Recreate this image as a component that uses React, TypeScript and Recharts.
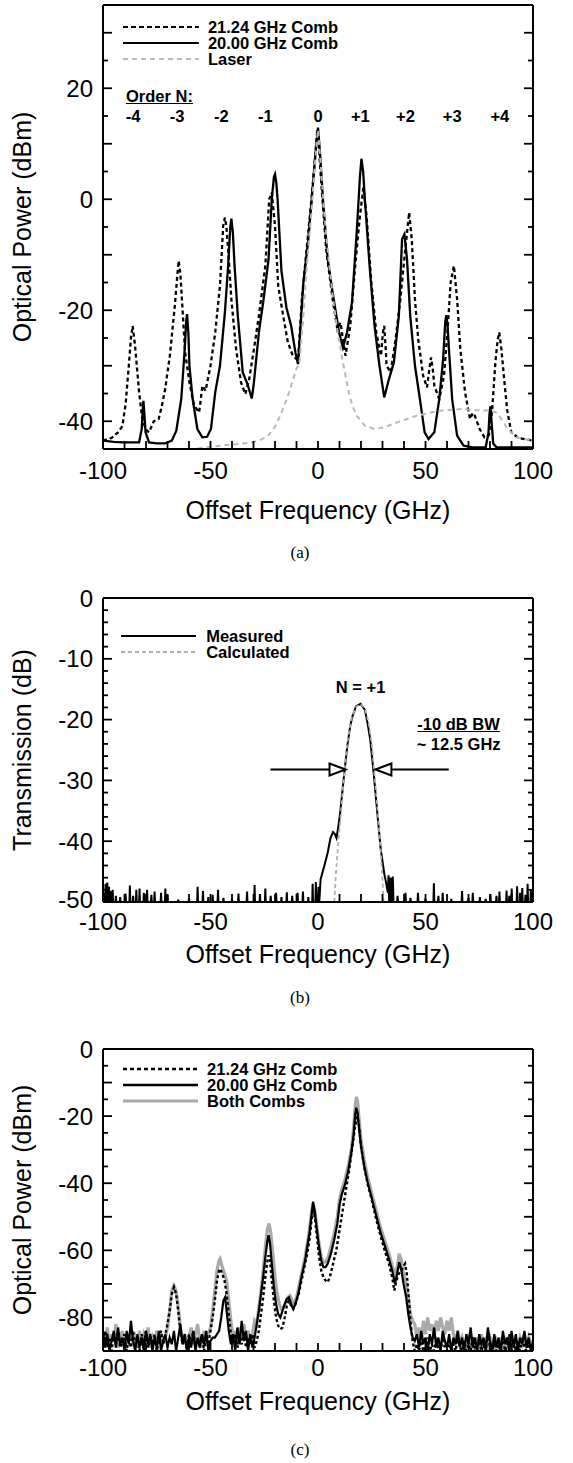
import React from "react";
import { LineChart, Line, XAxis, YAxis, ReferenceLine, ReferenceDot } from "recharts";

type Pt = [number, number];

const FONT = "'Liberation Sans', Arial, Helvetica, sans-serif";
const PAGE_W = 573;
const PLOT_L = 103;
const PLOT_R = 533;
const PLOT_W = PLOT_R - PLOT_L;

// ---- axes ----
const xTicks = [-100, -90, -80, -70, -60, -50, -40, -30, -20, -10, 0, 10, 20, 30, 40, 50, 60, 70, 80, 90, 100];
const xLabels = [-100, -50, 0, 50, 100];

const yTicksA = [-40, -35, -30, -25, -20, -15, -10, -5, 0, 5, 10, 15, 20, 25, 30];
const yLabelsA = [-40, -20, 0, 20];
const yTicksB = [-50, -48, -46, -44, -42, -40, -38, -36, -34, -32, -30, -28, -26, -24, -22, -20, -18, -16, -14, -12, -10, -8, -6, -4, -2, 0];
const yLabelsB = [-50, -40, -30, -20, -10, 0];
const yTicksC = [-85, -80, -75, -70, -65, -60, -55, -50, -45, -40, -35, -30, -25, -20, -15, -10, -5, 0];
const yLabelsC = [-80, -60, -40, -20, 0];

// ---- (a) comb spectra ----
const combA2124: Pt[] = [
  [-100, -43.5], [-96, -43], [-93, -42], [-91, -40.9], [-89.5, -37], [-88, -30], [-87, -25], [-86.2, -22.8],
  [-85.2, -26], [-84.5, -29], [-83.2, -34.8], [-81.7, -39.6], [-80, -41.5], [-78.6, -42], [-77.5, -41],
  [-76.4, -40], [-74.1, -39.6], [-72.5, -37], [-71.1, -34.2], [-68.9, -28.2], [-66.6, -19.2], [-65.5, -14],
  [-64.8, -11.1], [-64, -13.5], [-63.3, -18], [-61.8, -27.6], [-59.8, -33], [-57.6, -37.2], [-55.3, -38.4],
  [-54.5, -36], [-53.8, -33.6], [-52.3, -34.5], [-50, -30], [-47.8, -24], [-45.6, -15.6], [-44.1, -4.8],
  [-43.3, -3.3], [-42.6, -5], [-41.8, -9], [-40.3, -18], [-38.1, -27], [-35.8, -33], [-33.8, -35.1],
  [-32, -32.4], [-29.8, -27], [-27.5, -21], [-24.5, -12], [-22.7, 0], [-21.5, 1.2], [-20, -4.8],
  [-18.5, -15.6], [-16.2, -21], [-14, -25.8], [-11.7, -28.2], [-10, -28.8], [-9.3, -29.1], [-7.5, -18],
  [-5.3, -9], [-3, 0], [-1.5, 7], [-0.3, 12.6], [0.5, 9], [1.5, 3], [3.8, -9], [6.8, -18], [9, -23.4],
  [10.5, -22.2], [11.5, -25], [12.8, -28.2], [15, -22.8], [17.3, -12], [19.5, -3], [21.1, 2.1], [22.6, -3],
  [24.8, -15], [27.1, -24], [29.3, -28.2], [30.2, -24], [30.8, -22.8], [31.5, -27], [31.9, -30],
  [33.8, -31.2], [36.1, -25.2], [38.3, -18], [40.6, -9], [42.4, -2.4], [43.6, -7.2], [45.1, -18],
  [46.6, -25.2], [48.9, -31.8], [50.7, -33.9], [52, -30], [52.6, -28.5], [53.5, -31], [54.1, -33.6],
  [56.4, -36], [58.6, -31.8], [60.2, -24], [61.7, -15], [63.2, -12], [64.7, -18], [66.2, -27],
  [68.4, -34.8], [70.7, -39.6], [72, -38.5], [72.9, -39], [75.2, -41.4], [77.4, -42.9], [79.5, -42.5],
  [81, -38], [82.5, -29.4], [83.5, -25.5], [84.3, -24], [85.3, -27], [86.6, -32.5], [88, -38],
  [89.9, -42], [93.2, -43], [100, -43.5],
];

const combA2000: Pt[] = [
  [-100, -43.5], [-95, -43.7], [-90.7, -43.8], [-83.2, -43.8], [-82, -41.4], [-81.5, -38], [-81.2, -36.3],
  [-80.7, -39], [-80.2, -42], [-78.6, -43.8], [-75, -44], [-71.1, -44], [-68, -43.5], [-65.9, -41.7],
  [-63.6, -36], [-62.1, -27.6], [-61.3, -22], [-60.9, -20.7], [-60.3, -24], [-59.8, -30], [-58.3, -36],
  [-56.1, -41.4], [-53.8, -42.9], [-51.6, -42.8], [-49.8, -41.4], [-47.8, -34.8], [-45.6, -30],
  [-43.3, -20.4], [-41.8, -12], [-40.8, -5], [-40.3, -3.5], [-39.6, -6], [-38.8, -12], [-37.3, -21],
  [-35, -31.2], [-32.8, -33.3], [-30.8, -35.9], [-29.8, -33], [-27.5, -24], [-25.3, -18], [-23, -10.8],
  [-21.5, 0], [-20.5, 4], [-20, 4.5], [-19.4, 3], [-18.8, 0], [-17, -12.9], [-14.7, -19.5], [-12.5, -22.8],
  [-10.5, -27.6], [-9.3, -29.7], [-8.3, -24], [-6.8, -15], [-4.5, -7.2], [-2.3, 3], [-1, 9], [0, 12.9],
  [1, 8], [2.3, 0], [4.5, -10.8], [6.8, -16.8], [9.8, -24], [11.6, -26.7], [13.5, -24], [15.8, -18.6],
  [18, -6], [19.5, 4], [20.2, 7.3], [21, 5], [21.8, 0], [24, -12], [26.3, -22.8], [28.6, -30],
  [30.8, -35.7], [33, -32.4], [35.3, -29.4], [37.6, -21], [39.1, -7.2], [40.2, -6.3], [41.4, -10.8],
  [42.9, -21], [45.1, -30], [47.4, -36], [49.6, -42], [51.4, -43.2], [54.1, -42], [56.4, -36],
  [58.2, -28.8], [59.2, -22], [59.7, -20.9], [60.3, -23], [60.9, -27], [62.4, -36], [64.7, -42.6],
  [67.7, -44.4], [72, -44.7], [78, -44.7], [79.3, -42], [79.8, -38.5], [80.2, -37.3], [80.7, -40],
  [81.5, -44], [83, -44.7], [100, -44.7],
];

const laserA: Pt[] = [
  [-56, -44.9], [-50, -44.6], [-40, -44.2], [-31.8, -43.9], [-27, -43.4], [-23.4, -42.7], [-20, -41],
  [-17, -38.5], [-14.5, -36], [-12, -33], [-10, -30.5], [-8.6, -29.4], [-7, -22], [-5, -11], [-3, -2],
  [-1.5, 6], [0, 12.5], [1.5, 5], [3, -3], [5, -11], [7, -18], [9, -23.5], [11.3, -28.8], [14.3, -34.8],
  [16, -37.2], [18, -39], [21.8, -40.8], [26.3, -41.4], [30.8, -41.1], [36.8, -40.2], [45.9, -39],
  [56.4, -38.1], [66.9, -37.8], [75.9, -38.1], [80, -38], [83.3, -38.5], [86, -40], [88.3, -41.5],
  [93.2, -43], [100, -43.5],
];

// ---- (b) filter transmission ----
const MEAS_FLOOR = -50;
const measSpikesLeft: Pt[] = [
  [-99.5, -48.5], [-98.8, -47], [-98, -46.8], [-97.2, -47.5], [-96.5, -48.2], [-95.5, -48], [-94, -49],
  [-92, -49.2], [-89.5, -48.6], [-87.5, -47.3], [-86, -49], [-84.5, -48], [-83, -47.8], [-81, -48.5],
  [-79.5, -48], [-77.5, -48.8], [-76, -48.3], [-73, -48.5], [-71, -47.8], [-70, -48.8], [-65, -49.6],
  [-60, -49.4], [-56, -47.5], [-53.5, -48.2], [-51, -49.2], [-49, -48.8], [-46.5, -48], [-44, -49.3],
  [-40, -49.5], [-37, -48.6], [-33, -48.3], [-29.5, -47.2], [-27, -48.7], [-24.5, -47.8], [-22, -49],
  [-19.5, -48.5], [-17, -49.2], [-14.5, -48.4], [-12, -49], [-9.5, -48.5], [-7, -48.3], [-4.5, -49.2],
  [-2.5, -47], [-1, -46.7], [0.2, -47.5],
];
const measPeak: Pt[] = [
  [0.6, -50], [1.2, -46.3], [2.9, -44.1], [4.5, -41.9], [5.8, -39.5], [7, -38.5], [7.8, -38.8],
  [8.6, -39.5], [9.5, -37.5], [10.3, -35.4], [11.9, -29.9], [13.6, -24.4], [15, -21], [16, -19.5],
  [17.7, -17.8], [19.8, -17.4], [21.8, -18.4], [23, -20.5], [24.3, -23.3], [25.9, -28.8], [27.6, -35.4],
  [29.2, -41.4], [30.9, -45.5], [31.5, -46.5], [32.5, -48.5], [32.8, -45.6], [33.1, -50], [33.8, -46],
  [34.1, -50], [34.8, -45.8], [35.1, -50],
];
const measSpikesRight: Pt[] = [
  [37, -49], [40.7, -48.5], [43, -49.3], [46.5, -48.5], [50, -49.5], [53.9, -46.9], [56, -49], [58, -48.5],
  [62, -49.5], [67, -48.2], [70, -49.3], [72, -48.5], [75.3, -49.2], [78, -49.5], [80.2, -48.7], [83, -49],
  [84.4, -48.3], [87.7, -48.1], [89, -49], [90.1, -47.8], [92.6, -47.4], [94, -48.5], [95, -47.7],
  [96.5, -48.8], [97.5, -47], [99, -48],
];
const calculatedB: Pt[] = [
  [7.6, -50], [8.2, -46], [8.6, -44], [9.5, -40], [10.3, -37], [11.9, -30], [13.6, -23.8], [15, -20.8],
  [16, -19.3], [17.7, -17.9], [19.8, -17.4], [21.8, -18.2], [23.5, -20.4], [25, -24], [25.9, -27.5],
  [27.6, -34.3], [29.2, -41.9], [30, -46.5], [30.5, -50],
];

// ---- (c) after the filter ----
const bothC: Pt[] = [
  [-100, -86], [-99, -88], [-98, -83], [-97, -89], [-96, -85], [-95, -87], [-94, -82], [-93, -89], [-92, -86],
  [-91, -84], [-90, -89], [-89, -85], [-88, -87], [-87, -83], [-86, -88], [-85, -86], [-84, -89], [-83, -84],
  [-82, -88], [-81, -85], [-80, -87], [-79, -83], [-78, -89], [-77, -86], [-76, -88], [-75, -84], [-74, -87],
  [-73, -85], [-72, -87], [-71, -86], [-70, -83], [-69, -78], [-68, -72], [-67, -70.5], [-66, -72],
  [-65, -77], [-64, -83], [-63, -87], [-62, -85], [-61, -89], [-60, -86], [-59, -83], [-58, -88], [-57, -85],
  [-56, -82], [-55, -87], [-54, -89], [-53, -84], [-52, -87], [-51, -85], [-50, -83], [-49, -78], [-48, -72],
  [-47, -66], [-46, -63], [-45.5, -62.5], [-44.5, -65], [-43.5, -67], [-42.5, -69], [-41.5, -75],
  [-40.5, -81], [-39.5, -86], [-38.5, -84], [-37.5, -88], [-36.5, -83], [-35.5, -87], [-34.5, -82],
  [-33.5, -86], [-32.5, -84], [-31.5, -88], [-30.5, -85], [-29.5, -81], [-28.5, -82], [-27.5, -77],
  [-26.5, -72], [-25.5, -66], [-24.5, -59], [-23.5, -53.5], [-22.8, -52], [-22, -54.5], [-21, -61],
  [-20, -68], [-19, -73], [-18, -76], [-17, -77.5], [-16, -77], [-15, -75.5], [-14, -74], [-13, -73.5],
  [-12, -75], [-11, -76], [-10, -74], [-9, -71], [-8, -68], [-7, -65], [-6, -62], [-5, -58], [-4, -54],
  [-3, -48.5], [-2.3, -46], [-1.5, -48], [-0.5, -53], [0.5, -58], [1.5, -62], [2.5, -63.5], [3.5, -63.5],
  [4.5, -62.5], [6, -59], [7.5, -55], [9, -50], [10, -45], [11, -42], [12.5, -39], [14, -35], [15.5, -30],
  [16.5, -24], [17.3, -17], [17.8, -14.3], [18.4, -15.5], [19, -20], [20, -27], [21.5, -33], [23, -38],
  [25, -43], [27, -48], [29, -53], [31, -57], [33, -61], [34.5, -64.5], [35.8, -67.5], [36.8, -65],
  [37.8, -61], [38.8, -63], [39.8, -67], [41, -70], [42, -74], [43, -79], [44, -81], [45, -82], [46, -86],
  [47, -83], [48, -88], [49, -81], [50, -85], [51, -80], [52, -84], [53, -82], [54, -86], [55, -81],
  [56, -84], [57, -80], [58, -83], [59, -85], [60, -81], [61, -84], [62, -80], [63, -85], [64, -87],
  [65, -84], [66, -88], [67, -86], [68, -89], [69, -87], [70, -85], [71, -89], [72, -87], [73, -90],
  [74, -86], [75, -88], [76, -85], [77, -89], [78, -87], [79, -89], [80, -86], [81, -88], [82, -90],
  [83, -87], [84, -89], [85, -86], [86, -89], [87, -87], [88, -90], [89, -88], [90, -85], [91, -89],
  [92, -87], [93, -89], [94, -86], [95, -88], [96, -85], [97, -89], [98, -86], [99, -88], [100, -87],
];

const combC2000: Pt[] = [
  [-100, -84], [-99, -89], [-98, -85], [-97, -90], [-96, -87], [-95, -84], [-94, -89], [-93, -83], [-92, -88],
  [-91, -86], [-90, -90], [-89, -84], [-88, -88], [-87, -81], [-86, -87], [-85, -90], [-84, -85], [-83, -89],
  [-82, -86], [-81, -90], [-80, -84], [-79, -88], [-78, -85], [-77, -90], [-76, -86], [-75, -89], [-74, -84],
  [-73, -90], [-72, -87], [-71, -85], [-70, -89], [-69, -86], [-68, -88], [-67, -84], [-66, -90], [-65, -86],
  [-64, -82], [-63, -88], [-62, -85], [-61, -90], [-60, -86], [-59, -89], [-58, -84], [-57, -90], [-56, -86],
  [-55, -89], [-54, -85], [-53, -88], [-52, -84], [-51, -90], [-50, -87], [-49, -86], [-48, -86], [-47, -85],
  [-46, -84], [-45, -80], [-44, -75], [-43.2, -74], [-42.5, -78], [-41.5, -84], [-40.5, -88], [-39.5, -85],
  [-38.5, -90], [-37.5, -83], [-36.5, -88], [-35.5, -81], [-34.5, -87], [-33.5, -84], [-32.5, -90],
  [-31.5, -85], [-30.5, -89], [-29.5, -86], [-28.5, -82], [-27.5, -78], [-26.5, -73], [-25.5, -68],
  [-24.5, -62], [-23.5, -57], [-23, -55.5], [-22.3, -58], [-21.5, -64], [-20.5, -71], [-19.5, -76],
  [-18.5, -79], [-17.5, -80], [-16.5, -78], [-15.5, -76], [-14.5, -74.5], [-13.5, -74], [-12.5, -76],
  [-11.5, -77.5], [-10.5, -76], [-9, -72.5], [-8, -69], [-7, -66], [-6, -63], [-5, -59], [-4, -55],
  [-3, -49.5], [-2.3, -45.5], [-1.5, -48.5], [-0.5, -54], [0.5, -59], [1.5, -63], [2.5, -65], [3.5, -65],
  [4.5, -64], [6, -61], [7.5, -57], [9, -52], [10, -46.5], [11, -43.5], [12.5, -40.5], [14, -36.5],
  [15.5, -31], [16.5, -26], [17.3, -19.5], [17.8, -17.5], [18.4, -19], [19, -23], [20, -29], [21.5, -35],
  [23, -39.5], [25, -44.5], [27, -49.5], [29, -54.5], [31, -58.5], [33, -62.5], [34.5, -66], [35.8, -70],
  [36.8, -67], [37.8, -63.5], [38.8, -66], [39.8, -70], [41, -74], [42, -79], [43, -83], [44, -86],
  [45, -87], [46, -85], [47, -89], [48, -84], [49, -88], [50, -86], [51, -90], [52, -85], [53, -88],
  [54, -83], [55, -89], [56, -86], [57, -90], [58, -84], [59, -87], [60, -89], [61, -85], [62, -90],
  [63, -86], [64, -88], [65, -84], [66, -89], [67, -86], [68, -90], [69, -85], [70, -88], [71, -83],
  [72, -89], [73, -86], [74, -90], [75, -85], [76, -88], [77, -86], [78, -90], [79, -83], [80, -87],
  [81, -90], [82, -85], [83, -89], [84, -86], [85, -90], [86, -84], [87, -88], [88, -86], [89, -90],
  [90, -84], [91, -89], [92, -85], [93, -90], [94, -86], [95, -88], [96, -84], [97, -89], [98, -86],
  [99, -90], [100, -87],
];

const combC2124: Pt[] = [
  [-100, -87], [-99, -84], [-98, -89], [-97, -86], [-96, -90], [-95, -85], [-94, -88], [-93, -84], [-92, -89],
  [-91, -87], [-90, -85], [-89, -90], [-88, -86], [-87, -89], [-86, -84], [-85, -88], [-84, -86], [-83, -90],
  [-82, -85], [-81, -88], [-80, -84], [-79, -89], [-78, -86], [-77, -88], [-76, -85], [-75, -90], [-74, -87],
  [-73, -84], [-72, -88], [-71, -85], [-70, -82], [-69, -78], [-68, -73], [-67, -71], [-66, -73], [-65, -78],
  [-64, -84], [-63, -88], [-62, -86], [-61, -89], [-60, -85], [-59, -88], [-58, -84], [-57, -89], [-56, -86],
  [-55, -88], [-54, -85], [-53, -90], [-52, -86], [-51, -88], [-50, -84], [-49, -80], [-48, -75], [-47, -69],
  [-46, -66], [-45.5, -65.5], [-44.5, -67], [-43.5, -69], [-42.5, -73], [-41.5, -79], [-40.5, -85],
  [-39.5, -88], [-38.5, -85], [-37.5, -89], [-36.5, -86], [-35.5, -88], [-34.5, -84], [-33.5, -89],
  [-32.5, -86], [-31.5, -88], [-30.5, -85], [-29.5, -89], [-28.5, -87], [-27.5, -84], [-26.5, -79],
  [-25.5, -74], [-24.5, -68], [-23.5, -63], [-23, -61.5], [-22.3, -63], [-21.5, -69], [-20.5, -75],
  [-19.5, -80], [-18.5, -82.5], [-17.5, -83.5], [-16.5, -83], [-15.5, -80], [-14.5, -76.5], [-13.5, -75],
  [-12.5, -76.5], [-11.5, -77.5], [-10.5, -76], [-9, -73], [-8, -70], [-7, -67], [-6, -64], [-5, -61],
  [-4, -57], [-3, -51], [-2.3, -47.5], [-1.5, -50], [-0.5, -56], [0.5, -62], [1.5, -66], [2.5, -68],
  [3.5, -69], [4.5, -69.5], [5.5, -68], [7, -64], [8.5, -60], [10, -54], [11.5, -48], [13, -42],
  [14.5, -36], [16, -29], [17.3, -23], [18.2, -20], [19, -22.5], [20, -29], [21.5, -35], [23, -40],
  [25, -45], [27, -50.5], [29, -55.5], [31, -60], [33, -64], [34.5, -68], [35.5, -72], [36.5, -69],
  [37.5, -67], [38.5, -66.5], [39.5, -65], [40.5, -64], [41.3, -67], [42.2, -74], [43, -81], [44, -87],
  [45, -90], [46, -88], [47, -90], [48, -87], [49, -90], [50, -89], [51, -86], [52, -90], [53, -88],
  [54, -90], [55, -87], [56, -89], [57, -90], [58, -86], [59, -89], [60, -90], [61, -87], [62, -90],
  [63, -88], [64, -90], [65, -86], [66, -89], [67, -90], [68, -87], [69, -90], [70, -88], [71, -90],
  [72, -86], [73, -89], [74, -90], [75, -87], [76, -90], [77, -88], [78, -90], [79, -85], [80, -89],
  [81, -90], [82, -87], [83, -90], [84, -88], [85, -90], [86, -86], [87, -90], [88, -88], [89, -85],
  [90, -90], [91, -87], [92, -90], [93, -88], [94, -90], [95, -86], [96, -89], [97, -90], [98, -87],
  [99, -90], [100, -88],
];

const orderLabels = ["-4", "-3", "-2", "-1", "0", "+1", "+2", "+3", "+4"];
const orderPos = [-86, -65.5, -45, -24.5, 0, 19.7, 40.7, 62.4, 84.6];

// ---- helpers ----
const rows = (pts: Pt[]) => pts.map(([x, y]) => ({ x, y }));
const spikes = (s: Pt[]): Pt[] =>
  s.flatMap(([x, t]) => [[x - 0.2, MEAS_FLOOR], [x, t], [x + 0.2, MEAS_FLOOR]] as Pt[]);
const measuredB: Pt[] = [...spikes(measSpikesLeft), ...measPeak, ...spikes(measSpikesRight)];

interface Geom {
  top: number;
  height: number;
  plotTop: number;
  plotBottom: number;
  yMin: number;
  yMax: number;
  xLabelGap: number;
  titleGap: number;
  bottomLabelLift: number;
}

const GA: Geom = { top: 0, height: 535, plotTop: 5, plotBottom: 449, yMin: -45, yMax: 35, xLabelGap: 21, titleGap: 70, bottomLabelLift: 0 };
const GB: Geom = { top: 560, height: 420, plotTop: 38, plotBottom: 342, yMin: -50, yMax: 0, xLabelGap: 19, titleGap: 61, bottomLabelLift: 3 };
const GC: Geom = { top: 1010, height: 420, plotTop: 39, plotBottom: 341, yMin: -90, yMax: 0, xLabelGap: 16, titleGap: 59, bottomLabelLift: 0 };

const px = (x: number) => PLOT_L + ((x + 100) / 200) * PLOT_W;
const py = (g: Geom, y: number) =>
  g.top + g.plotTop + ((g.yMax - y) / (g.yMax - g.yMin)) * (g.plotBottom - g.plotTop);

const isMul = (v: number, step: number) => Math.abs(v / step - Math.round(v / step)) < 1e-6;

function frame(g: Geom, yTicks: number[], yLabels: number[], yMajor: number, yTitle: string) {
  const text = { fontFamily: FONT, fontSize: 24, fill: "#000" };
  const axisLine = { stroke: "#000", strokeWidth: 2 };
  return [
    <XAxis
      key="xb"
      type="number"
      dataKey="x"
      domain={[-100, 100]}
      allowDataOverflow
      ticks={xTicks}
      interval={0}
      tickLine={false}
      tickSize={0}
      tickMargin={0}
      axisLine={axisLine}
      height={g.height - g.plotBottom}
      tick={({ x, y, payload }: any) => (
        <g>
          <line x1={x} x2={x} y1={y} y2={y - 8} stroke="#000" strokeWidth={1.8} />
          {xLabels.includes(payload.value) && (
            <text x={x} y={y + g.xLabelGap} dy="0.36em" textAnchor="middle" {...text}>
              {payload.value}
            </text>
          )}
        </g>
      )}
      label={() => (
        <text x={PLOT_L + PLOT_W / 2} y={g.plotBottom + g.titleGap} textAnchor="middle" fontFamily={FONT} fontSize={25} fill="#000">
          Offset Frequency (GHz)
        </text>
      )}
    />,
    <XAxis
      key="xt"
      xAxisId="top"
      orientation="top"
      type="number"
      domain={[-100, 100]}
      allowDataOverflow
      ticks={xTicks}
      interval={0}
      tickLine={false}
      tickSize={0}
      tickMargin={0}
      axisLine={axisLine}
      height={1}
      tick={({ x, y }: any) => <line x1={x} x2={x} y1={y} y2={y + 8} stroke="#000" strokeWidth={1.8} />}
    />,
    <YAxis
      key="yl"
      type="number"
      domain={[g.yMin, g.yMax]}
      allowDataOverflow
      ticks={yTicks}
      interval={0}
      tickLine={false}
      tickSize={0}
      tickMargin={0}
      axisLine={axisLine}
      width={PLOT_L}
      tick={({ x, y, payload }: any) => (
        <g>
          <line x1={x} x2={x + (isMul(payload.value, yMajor) ? 9 : 5)} y1={y} y2={y} stroke="#000" strokeWidth={1.8} />
          {yLabels.includes(payload.value) && (
            <text
              x={x - 10}
              y={payload.value === g.yMin ? y - g.bottomLabelLift : y}
              dy="0.36em"
              textAnchor="end"
              {...text}
            >
              {payload.value}
            </text>
          )}
        </g>
      )}
      label={() => {
        const cy = (g.plotTop + g.plotBottom) / 2;
        return (
          <text x={31} y={cy} transform={`rotate(-90 31 ${cy})`} textAnchor="middle" fontFamily={FONT} fontSize={25} fill="#000">
            {yTitle}
          </text>
        );
      }}
    />,
    <YAxis
      key="yr"
      yAxisId="right"
      orientation="right"
      type="number"
      domain={[g.yMin, g.yMax]}
      allowDataOverflow
      ticks={yTicks}
      interval={0}
      tickLine={false}
      tickSize={0}
      tickMargin={0}
      axisLine={axisLine}
      width={1}
      tick={({ x, y, payload }: any) => (
        <line x1={x} x2={x - (isMul(payload.value, yMajor) ? 9 : 5)} y1={y} y2={y} stroke="#000" strokeWidth={1.8} />
      )}
    />,
  ];
}

const margin = (g: Geom) => ({ top: g.plotTop - 1, right: PAGE_W - PLOT_R - 1, left: 0, bottom: 0 });

const boldText: React.CSSProperties = {
  position: "absolute",
  fontFamily: FONT,
  fontWeight: 700,
  fontSize: 16.5,
  lineHeight: "18px",
  whiteSpace: "nowrap",
  color: "#000",
};

function Note({ x, y, children, align = "center", underline = false }: any) {
  return (
    <div
      style={{
        ...boldText,
        left: x,
        top: y,
        transform: align === "center" ? "translate(-50%, -50%)" : "translate(0, -50%)",
        textDecoration: underline ? "underline" : "none",
      }}
    >
      {children}
    </div>
  );
}

interface LegendRow {
  label: string;
  color: string;
  width: number;
  dash?: string;
}

function LegendBox({ g, rowsY, items, x1, x2, xt }: { g: Geom; rowsY: number[]; items: LegendRow[]; x1: number; x2: number; xt: number }) {
  return (
    <>
      {items.map((it, i) => (
        <React.Fragment key={it.label}>
          <svg
            width={px(x2) - px(x1)}
            height={6}
            style={{ position: "absolute", left: px(x1), top: py(g, rowsY[i]) - 3 }}
          >
            <line x1={0} x2={px(x2) - px(x1)} y1={3} y2={3} stroke={it.color} strokeWidth={it.width} strokeDasharray={it.dash} />
          </svg>
          <Note x={px(xt)} y={py(g, rowsY[i])} align="left">
            {it.label}
          </Note>
        </React.Fragment>
      ))}
    </>
  );
}

function Caption({ y, text }: { y: number; text: string }) {
  return (
    <div
      style={{
        position: "absolute",
        left: 300,
        top: y,
        transform: "translate(-50%, -50%)",
        fontFamily: "'Liberation Serif', 'DejaVu Serif', serif",
        fontSize: 17,
        color: "#000",
      }}
    >
      {text}
    </div>
  );
}

const arrowHead = (dir: 1 | -1) => (props: any) => {
  const { cx, cy } = props;
  const b = cx - dir * 16;
  return <path d={`M${cx},${cy} L${b},${cy - 6} L${b},${cy + 6} Z`} fill="#fff" stroke="#000" strokeWidth={2} />;
};

export default function App() {
  return (
    <div style={{ position: "absolute", left: 0, top: 0, width: PAGE_W, height: 1463, background: "#fff" }}>
      {/* (a) */}
      <div style={{ position: "absolute", left: 0, top: GA.top }}>
        <LineChart width={PAGE_W} height={GA.height} margin={margin(GA)}>
          {frame(GA, yTicksA, yLabelsA, 10, "Optical Power (dBm)")}
          <Line data={rows(combA2124)} dataKey="y" type="linear" stroke="#000" strokeWidth={2.3} strokeDasharray="4 3" dot={false} activeDot={false} isAnimationActive={false} />
          <Line data={rows(combA2000)} dataKey="y" type="linear" stroke="#000" strokeWidth={2.3} dot={false} activeDot={false} isAnimationActive={false} />
          <Line data={rows(laserA)} dataKey="y" type="linear" stroke="#b8b8b8" strokeWidth={2} strokeDasharray="5 4" dot={false} activeDot={false} isAnimationActive={false} />
        </LineChart>
      </div>
      <LegendBox
        g={GA}
        rowsY={[31, 28.1, 25.3]}
        x1={-90.6}
        x2={-55.3}
        xt={-51.2}
        items={[
          { label: "21.24 GHz Comb", color: "#000", width: 2.2, dash: "5 3" },
          { label: "20.00 GHz Comb", color: "#000", width: 2.2 },
          { label: "Laser", color: "#b8b8b8", width: 2, dash: "5 4" },
        ]}
      />
      <Note x={px(-89.3)} y={py(GA, 18.6)} align="left" underline>
        Order N:
      </Note>
      {orderLabels.map((t, i) => (
        <Note key={t} x={px(orderPos[i])} y={py(GA, 15)}>
          {t}
        </Note>
      ))}
      <Caption y={553} text="(a)" />

      {/* (b) */}
      <div style={{ position: "absolute", left: 0, top: GB.top }}>
        <LineChart width={PAGE_W} height={GB.height} margin={margin(GB)}>
          {frame(GB, yTicksB, yLabelsB, 10, "Transmission (dB)")}
          <Line data={rows(measuredB)} dataKey="y" type="linear" stroke="#000" strokeWidth={2} dot={false} activeDot={false} isAnimationActive={false} />
          <Line data={rows(calculatedB)} dataKey="y" type="linear" stroke="#b0b0b0" strokeWidth={1.8} strokeDasharray="4 3" dot={false} activeDot={false} isAnimationActive={false} />
          <ReferenceLine segment={[{ x: -22.1, y: -28.2 }, { x: 12.8, y: -28.2 }]} stroke="#000" strokeWidth={2} />
          <ReferenceLine segment={[{ x: 60.8, y: -28.2 }, { x: 26.7, y: -28.2 }]} stroke="#000" strokeWidth={2} />
          <ReferenceDot x={12.8} y={-28.2} r={1} shape={arrowHead(1)} />
          <ReferenceDot x={26.7} y={-28.2} r={1} shape={arrowHead(-1)} />
        </LineChart>
      </div>
      <LegendBox
        g={GB}
        rowsY={[-6.2, -8.8]}
        x1={-91.8}
        x2={-56.7}
        xt={-52}
        items={[
          { label: "Measured", color: "#000", width: 2 },
          { label: "Calculated", color: "#b0b0b0", width: 1.8, dash: "4 3" },
        ]}
      />
      <Note x={px(19.8)} y={py(GB, -14.7)}>
        N = +1
      </Note>
      <Note x={px(65.4)} y={py(GB, -20.8)} underline>
        -10 dB BW
      </Note>
      <Note x={px(65.4)} y={py(GB, -24)}>
        ~ 12.5 GHz
      </Note>
      <Caption y={998} text="(b)" />

      {/* (c) */}
      <div style={{ position: "absolute", left: 0, top: GC.top }}>
        <LineChart width={PAGE_W} height={GC.height} margin={margin(GC)}>
          {frame(GC, yTicksC, yLabelsC, 10, "Optical Power (dBm)")}
          <Line data={rows(bothC)} dataKey="y" type="linear" stroke="#aaaaaa" strokeWidth={3.2} dot={false} activeDot={false} isAnimationActive={false} />
          <Line data={rows(combC2124)} dataKey="y" type="linear" stroke="#000" strokeWidth={2.4} strokeDasharray="3 2.5" dot={false} activeDot={false} isAnimationActive={false} />
          <Line data={rows(combC2000)} dataKey="y" type="linear" stroke="#000" strokeWidth={2.2} dot={false} activeDot={false} isAnimationActive={false} />
        </LineChart>
      </div>
      <LegendBox
        g={GC}
        rowsY={[-6.1, -10.7, -15.4]}
        x1={-90.9}
        x2={-55.8}
        xt={-51.6}
        items={[
          { label: "21.24 GHz Comb", color: "#000", width: 2.4, dash: "4 3" },
          { label: "20.00 GHz Comb", color: "#000", width: 2.4 },
          { label: "Both Combs", color: "#aaaaaa", width: 3 },
        ]}
      />
      <Caption y={1450} text="(c)" />
    </div>
  );
}
